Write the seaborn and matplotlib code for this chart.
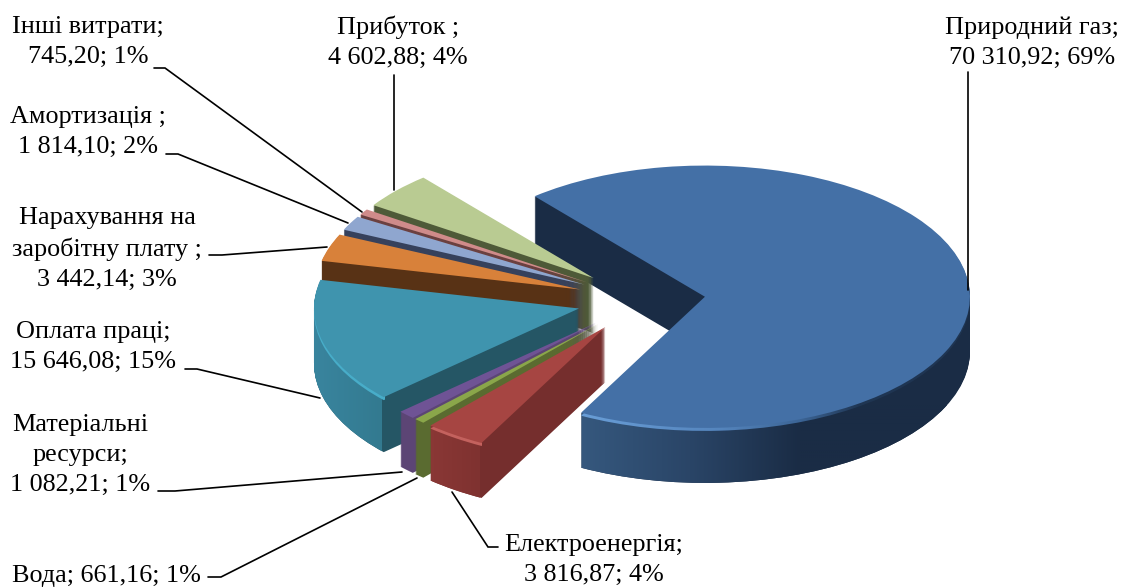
import numpy as np
import matplotlib
matplotlib.use('Agg')
import matplotlib.pyplot as plt
import matplotlib.colors as mcolors
from matplotlib.path import Path
import seaborn as sns

categories = ['Природний газ;', 'Електроенергія;', 'Вода;', 'Матеріальні\nресурси;', 'Оплата праці;',
              'Нарахування на\nзаробітну плату ;', 'Амортизація ;', 'Інші витрати;', 'Прибуток ;']
values = [70310.92, 3816.87, 661.16, 1082.21, 15646.08, 3442.14, 1814.10, 745.20, 4602.88]
percents = [69, 4, 1, 1, 15, 3, 2, 1, 4]

top_colors = ['#4470a6', '#a64542', '#8aa64a', '#6f5395', '#3f94ae', '#d8813a', '#8fa6cf', '#cf8b8a', '#b9cb92']
side_colors = ['#1a2c45', '#752e2d', '#5a6b30', '#5c4575', '#255665', '#583215', '#36415c', '#6b4040', '#4e5a38']
explode = [0.235, 0.25, 0.25, 0.25, 0.25, 0.25, 0.25, 0.25, 0.25]

W, H = 1130, 588
PX_R = 265          # pie radius in pixels
SQUASH = 0.495      # tilt of the pie
CX, CY = 643, 300   # pie centre before the explosion
DEPTH = 55


def to_y(py):
    return (CY - py) / (PX_R * SQUASH)


def to_x(px):
    return (px - CX) / PX_R


def fmt_value(v):
    s = f'{v:,.2f}'
    return s.replace(',', ' ').replace('.', ',')


def draw_pie(ax, offset_px, colors, z):
    wedges, _ = ax.pie(values, colors=colors, startangle=130, counterclock=False, explode=explode,
                       center=(0, to_y(CY + offset_px)), radius=1, wedgeprops={'linewidth': 0})
    for w in wedges:
        w.set_zorder(z)
    return wedges


def gradient(ax, path, x0, x1, y0, y1, stops, z):
    # horizontal colour ramp inside a wedge shape, stops are (px, colour)
    xs = np.linspace(x0, x1, 200)
    rgb = [mcolors.to_rgb(c) for _, c in stops]
    pos = [p for p, _ in stops]
    img = np.stack([np.interp(xs, pos, [c[i] for c in rgb]) for i in range(3)], axis=1)[None, :, :]
    im = ax.imshow(img, extent=(to_x(x0), to_x(x1), to_y(y1), to_y(y0)), aspect='auto', zorder=z,
                   interpolation='bilinear')
    im.set_clip_path(path, ax.transData)


sns.set_theme(style='white')
plt.rcParams['font.family'] = ['Liberation Serif', 'DejaVu Serif']

fig = plt.figure(figsize=(W / 100, H / 100), dpi=100)
ax = fig.add_axes([0, 0, 1, 1])

# extruded body, bottom layer first
side_paths = [[] for _ in values]
for off in range(DEPTH, 0, -1):
    wedges = draw_pie(ax, off, side_colors, 1)
    for i, w in enumerate(wedges):
        side_paths[i].append(w.get_path())

blue_side = Path.make_compound_path(*side_paths[0])
gradient(ax, blue_side, 575, 975, 405, 495, [(575, '#36597f'), (690, '#2a4567'), (800, '#1a2c45'), (975, '#1a2c45')], 2)
teal_side = Path.make_compound_path(*side_paths[4])
gradient(ax, teal_side, 305, 382, 285, 460, [(305, '#3a86a0'), (382, '#337a90')], 2)
red_side = Path.make_compound_path(*side_paths[1])
gradient(ax, red_side, 425, 480, 420, 505, [(425, '#8b3836'), (480, '#7f3230')], 2)

# light rim along the front edge of the top face
rim = draw_pie(ax, 3, top_colors, 3)
for w in rim:
    w.set_visible(False)
gradient(ax, rim[0].get_path(), 575, 975, 303, 445,
         [(575, '#6a9fd8'), (720, '#5585bd'), (800, '#3c6596'), (860, '#1f3552'), (975, '#1f3552')], 3.5)
gradient(ax, rim[4].get_path(), 305, 385, 280, 410, [(305, '#48adc9'), (385, '#48adc9')], 3.5)
gradient(ax, rim[1].get_path(), 425, 482, 425, 450, [(425, '#c4625e'), (482, '#c4625e')], 3.5)

draw_pie(ax, 0, sns.color_palette(top_colors), 4)

ax.set_aspect('auto')
ax.set_xlim(to_x(0), to_x(W))
ax.set_ylim(to_y(H), to_y(0))
ax.axis('off')

# labels and leader lines work in plain pixels on top
over = fig.add_axes([0, 0, 1, 1], facecolor='none')
over.set_xlim(0, W)
over.set_ylim(H, 0)
over.axis('off')

label_pos = [(1032, 43), (594, 560), (106, 576), (80, 455), (93, 347), (107, 249), (88, 132), (88, 42), (398, 42)]
leaders = [
    [(968, 72), (968, 290)],
    [(498, 547), (488, 547), (452, 492)],
    [(208, 577), (221, 577), (417, 478)],
    [(158, 491), (175, 491), (402, 472)],
    [(185, 369), (197, 369), (320, 398)],
    [(209, 255), (222, 255), (327, 247)],
    [(166, 154), (178, 154), (348, 223)],
    [(154, 68), (165, 68), (362, 212)],
    [(394, 75), (394, 190)],
]

for i, name in enumerate(categories):
    sep = ' ' if name == 'Вода;' else '\n'
    text = f'{name}{sep}{fmt_value(values[i])}; {percents[i]}%'
    over.text(label_pos[i][0], label_pos[i][1], text, ha='center', va='center', fontsize=18.8, color='black',
              linespacing=1.45, clip_on=False)
    xs, ys = zip(*leaders[i])
    over.plot(xs, ys, color='black', lw=1.2, solid_joinstyle='miter')

fig.savefig('out.png', dpi=100, facecolor='white')
